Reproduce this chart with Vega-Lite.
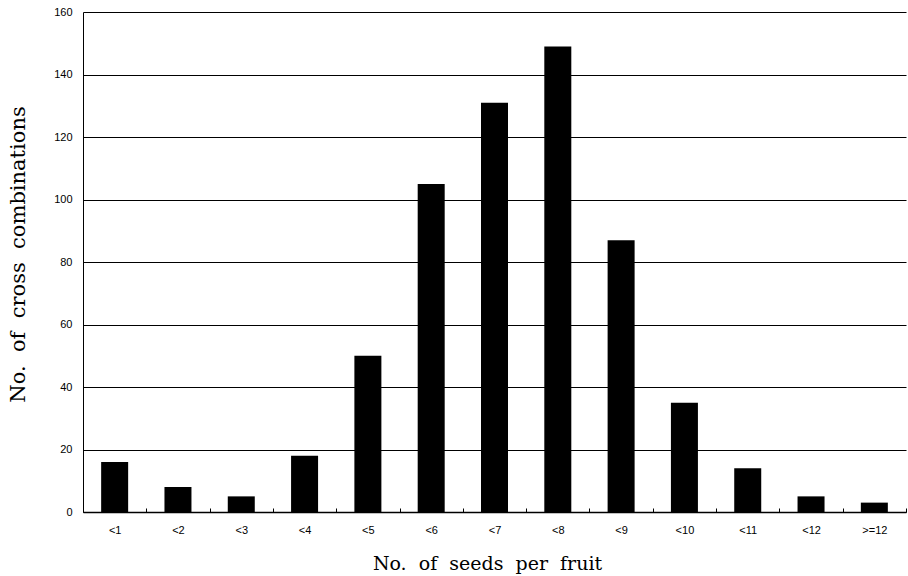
{
  "$schema": "https://vega.github.io/schema/vega-lite/v6.json",
  "width": 823,
  "height": 500,
  "autosize": {"type": "none"},
  "padding": {"left": 83, "top": 12, "right": 2, "bottom": 64},
  "background": "white",
  "config": {"view": {"stroke": null}},
  "data": {"values": [
    {"seeds": "<1", "count": 16},
    {"seeds": "<2", "count": 8},
    {"seeds": "<3", "count": 5},
    {"seeds": "<4", "count": 18},
    {"seeds": "<5", "count": 50},
    {"seeds": "<6", "count": 105},
    {"seeds": "<7", "count": 131},
    {"seeds": "<8", "count": 149},
    {"seeds": "<9", "count": 87},
    {"seeds": "<10", "count": 35},
    {"seeds": "<11", "count": 14},
    {"seeds": "<12", "count": 5},
    {"seeds": ">=12", "count": 3}
  ]},
  "mark": {"type": "bar", "color": "black", "size": 27},
  "encoding": {
    "x": {
      "field": "seeds", "type": "nominal", "sort": null,
      "scale": {"paddingInner": 0, "paddingOuter": 0},
      "axis": {
        "title": "No.\u00a0\u00a0of\u00a0\u00a0seeds\u00a0\u00a0per\u00a0\u00a0fruit",
        "titleFont": "DejaVu Serif", "titleFontSize": 19, "titleFontWeight": "normal", "titleColor": "black",
        "titleX": 404, "titleY": 51, "titleBaseline": "middle",
        "labelAngle": 0, "labelFont": "Liberation Sans", "labelFontSize": 11, "labelColor": "black",
        "labelPadding": 16,
        "domainColor": "black", "domainWidth": 1.5,
        "tickBand": "extent", "tickColor": "black", "tickSize": -4, "tickWidth": 1
      }
    },
    "y": {
      "field": "count", "type": "quantitative",
      "scale": {"domain": [0, 160]},
      "axis": {
        "title": "No.\u00a0\u00a0of\u00a0\u00a0cross\u00a0\u00a0combinations",
        "titleFont": "DejaVu Serif", "titleFontSize": 21, "titleFontWeight": "normal", "titleColor": "black",
        "titleX": -65, "titleY": 242, "titleAngle": -90, "titleBaseline": "middle",
        "values": [0, 20, 40, 60, 80, 100, 120, 140, 160],
        "labelFont": "Liberation Sans", "labelFontSize": 11, "labelColor": "black",
        "labelPadding": 11, "ticks": false,
        "domainColor": "black", "domainWidth": 1,
        "grid": true, "gridColor": "black", "gridWidth": 1, "gridOpacity": 1
      }
    }
  }
}
